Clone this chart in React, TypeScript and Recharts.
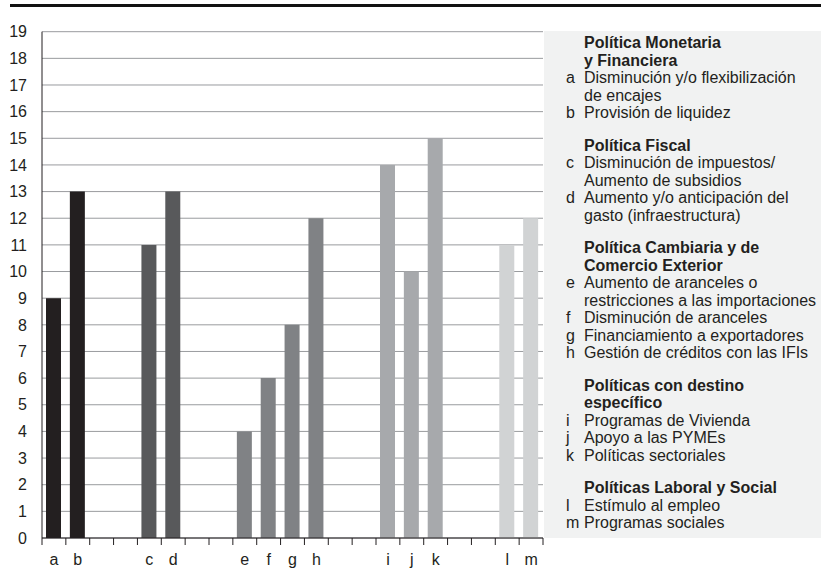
import React from "react";
import { BarChart, Bar, XAxis, YAxis, CartesianGrid, Cell } from "recharts";

const categories = ["a", "b", "_1", "_2", "c", "d", "_3", "_4", "e", "f", "g", "h", "_5", "_6", "i", "j", "k", "_7", "_8", "l", "m"];
const values: (number | null)[] = [9, 13, null, null, 11, 13, null, null, 4, 6, 8, 12, null, null, 14, 10, 15, null, null, 11, 12];
const groupOf = [0, 0, -1, -1, 1, 1, -1, -1, 2, 2, 2, 2, -1, -1, 3, 3, 3, -1, -1, 4, 4];
const groupColors = ["#231f20", "#58595b", "#808285", "#a7a9ac", "#d1d3d4"];
const yTicks = [0, 1, 2, 3, 4, 5, 6, 7, 8, 9, 10, 11, 12, 13, 14, 15, 16, 17, 18, 19];

const legendGroups = [
  { title: ["Política Monetaria", "y Financiera"], items: [["a", ["Disminución y/o flexibilización", "de encajes"]], ["b", ["Provisión de liquidez"]]] },
  { title: ["Política Fiscal"], items: [["c", ["Disminución de impuestos/", "Aumento de subsidios"]], ["d", ["Aumento y/o anticipación del", "gasto (infraestructura)"]]] },
  { title: ["Política Cambiaria y de", "Comercio Exterior"], items: [["e", ["Aumento de aranceles o", "restricciones a las importaciones"]], ["f", ["Disminución de aranceles"]], ["g", ["Financiamiento a exportadores"]], ["h", ["Gestión de créditos con las IFIs"]]] },
  { title: ["Políticas con destino", "específico"], items: [["i", ["Programas de Vivienda"]], ["j", ["Apoyo a las PYMEs"]], ["k", ["Políticas sectoriales"]]] },
  { title: ["Políticas Laboral y Social"], items: [["l", ["Estímulo al empleo"]], ["m", ["Programas sociales"]]] },
] as { title: string[]; items: [string, string[]][] }[];

const data = categories.map((c, i) => ({ cat: c, value: values[i] }));

const FONT = "'Liberation Sans', Arial, Helvetica, sans-serif";
const TEXT = "#231f20";

const XTick = (props: any) => {
  const { x, y, payload, index } = props;
  const half = payload.offset || 0;
  const label = String(payload.value).startsWith("_") ? "" : payload.value;
  const last = index === categories.length - 1;
  return (
    <g>
      <line x1={x - half} x2={x - half} y1={y} y2={y + 7} stroke="#231f20" strokeWidth={1} />
      {last && <line x1={x + half} x2={x + half} y1={y} y2={y + 7} stroke="#231f20" strokeWidth={1} />}
      <text x={x} y={y + 27} textAnchor="middle" fontSize={16} fontFamily={FONT} fill={TEXT}>
        {label}
      </text>
    </g>
  );
};

export default function App() {
  return (
    <div style={{ position: "absolute", left: 0, top: 0, width: 821, height: 568, background: "#fff", fontFamily: FONT }}>
      <div style={{ position: "absolute", left: 10, top: 4, width: 811, height: 3, background: "#111" }} />
      <div style={{ position: "absolute", left: 544, top: 31, width: 277, height: 507, background: "#f1f2f2" }} />
      <div style={{ position: "absolute", left: 0, top: 0 }}>
        <BarChart width={821} height={568} data={data} margin={{ top: 31.7, right: 278, bottom: 0, left: 0 }} barCategoryGap="37%">
          <CartesianGrid vertical={false} stroke="#999b9e" strokeWidth={1} />
          <XAxis
            dataKey="cat"
            interval={0}
            height={30}
            tickSize={0}
            tickMargin={0}
            axisLine={{ stroke: "#231f20", strokeWidth: 1 }}
            tickLine={false}
            tick={<XTick />}
          />
          <YAxis
            width={42}
            domain={[0, 19]}
            ticks={yTicks}
            interval={0}
            tickSize={0}
            tickMargin={15}
            tickLine={false}
            axisLine={{ stroke: "#231f20", strokeWidth: 1 }}
            tick={{ fontSize: 16, fontFamily: FONT, fill: TEXT }}
          />
          <YAxis yAxisId="r" orientation="right" width={0} domain={[0, 19]} tick={false} tickLine={false} axisLine={{ stroke: "#231f20", strokeWidth: 1 }} />
          <Bar dataKey="value" barSize={15} isAnimationActive={false}>
            {data.map((d, i) => (
              <Cell key={d.cat} fill={groupOf[i] >= 0 ? groupColors[groupOf[i]] : "none"} />
            ))}
          </Bar>
        </BarChart>
      </div>
      <div style={{ position: "absolute", left: 566, top: 34, width: 255, fontSize: 16, lineHeight: "17.5px", color: TEXT, whiteSpace: "nowrap" }}>
        {legendGroups.map((g, gi) => (
          <div key={gi} style={{ marginTop: gi === 0 ? 0 : 15 }}>
            {g.title.map((t) => (
              <div key={t} style={{ paddingLeft: 18, fontWeight: "bold" }}>{t}</div>
            ))}
            {g.items.map(([letter, lines]) => (
              <div key={letter} style={{ position: "relative", paddingLeft: 18 }}>
                <span style={{ position: "absolute", left: 0, top: 0 }}>{letter}</span>
                {lines.map((l) => (
                  <div key={l}>{l}</div>
                ))}
              </div>
            ))}
          </div>
        ))}
      </div>
    </div>
  );
}
